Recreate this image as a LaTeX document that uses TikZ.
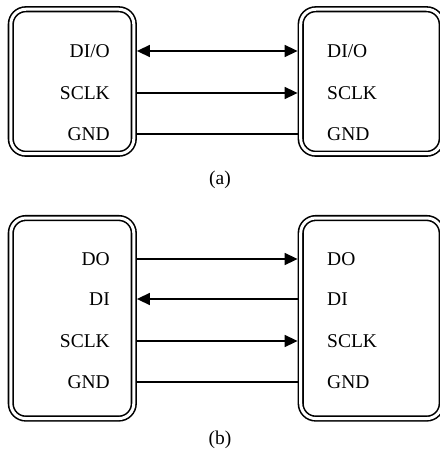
\documentclass[tikz,border=0pt]{standalone}
\usepackage{fontspec}
\setmainfont{Liberation Serif}
\usetikzlibrary{arrows.meta,positioning}

\begin{document}
\begin{tikzpicture}[
  x=1pt, y=-1pt,
  dev/.style={draw, double, line width=1.6pt, double distance=3pt, rounded corners=15pt, outer sep=3.1pt, inner sep=0pt},
  sig/.style={font=\fontsize{19.5}{22}\selectfont, inner sep=0pt, text height=12.5pt, text depth=0pt},
  subcap/.style={font=\fontsize{19.5}{22}\selectfont, inner sep=0pt},
  wire/.style={line width=1.5pt},
  arr/.style={wire, -{Triangle[length=13pt,width=12pt]}},
  bi/.style={wire, {Triangle[length=13pt,width=12pt]}-{Triangle[length=13pt,width=12pt]}}
]
\useasboundingbox (0,0) rectangle (439,449);

% (a) shared data line
\node[dev, minimum width=123pt, minimum height=144.5pt] (la) at (72.3,81.5) {};
\node[dev, minimum width=141pt, minimum height=144.5pt] (ra) at (371.2,81.5) {};

\node[sig, anchor=east] (dioL) at (110,51) {DI/O};
\node[sig, anchor=east] (sclkL) at (110,93) {SCLK};
\node[sig, anchor=east] (gndL) at (110,134) {GND};
\node[sig, anchor=west] (dioR) at (327,51) {DI/O};
\node[sig, anchor=west] (sclkR) at (327,93) {SCLK};
\node[sig, anchor=west] (gndR) at (327,134) {GND};

\draw[bi] (la.east |- dioL) -- (ra.west |- dioL);
\draw[arr] (la.east |- sclkL) -- (ra.west |- sclkL);
\draw[wire] (la.east |- gndL) -- (ra.west |- gndL);

\node[subcap] (capa) at (220,179.5) {(a)};

% (b) separate in / out lines
\node[dev, minimum width=123pt, minimum height=200.5pt] (lb) at (72.3,318.3) {};
\node[dev, minimum width=141pt, minimum height=200.5pt] (rb) at (371.2,318.3) {};

\node[sig, anchor=east] (doL) at (110,259) {DO};
\node[sig, anchor=east] (diL) at (110,299) {DI};
\node[sig, anchor=east] (sclkLb) at (110,341) {SCLK};
\node[sig, anchor=east] (gndLb) at (110,382) {GND};
\node[sig, anchor=west] (doR) at (327,259) {DO};
\node[sig, anchor=west] (diR) at (327,299) {DI};
\node[sig, anchor=west] (sclkRb) at (327,341) {SCLK};
\node[sig, anchor=west] (gndRb) at (327,382) {GND};

\draw[arr] (lb.east |- doL) -- (rb.west |- doL);
\draw[arr] (rb.west |- diL) -- (lb.east |- diL);
\draw[arr] (lb.east |- sclkLb) -- (rb.west |- sclkLb);
\draw[wire] (lb.east |- gndLb) -- (rb.west |- gndLb);

\node[subcap] (capb) at (220,440) {(b)};

\end{tikzpicture}
\end{document}
